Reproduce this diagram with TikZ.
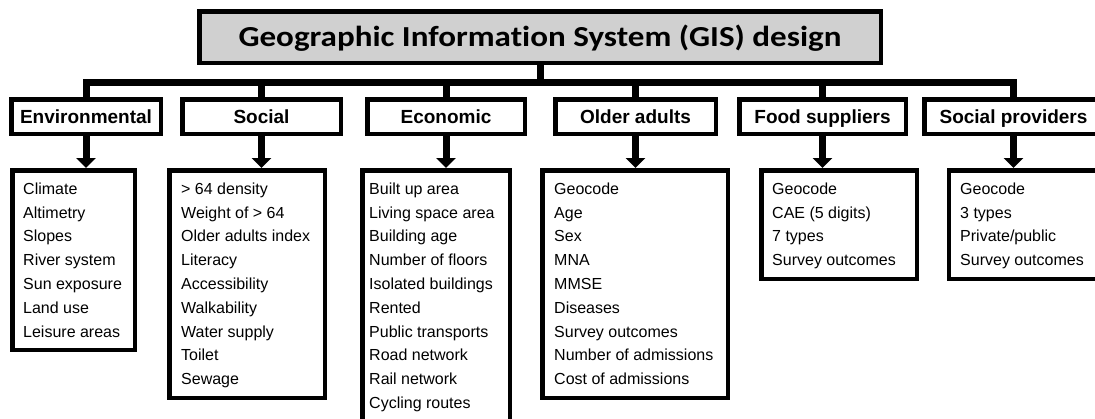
\documentclass[tikz,border=0pt]{standalone}
\usepackage{fontspec}
\setmainfont{Liberation Sans}
\newfontfamily\titlefont[FakeStretch=1.14,Ligatures=NoCommon]{Carlito}
\usetikzlibrary{arrows.meta}
\definecolor{titlegray}{HTML}{D0D0D0}
\begin{document}
\begin{tikzpicture}[x=1pt,y=-1pt,
  titlebox/.style={draw, line width=4.5pt, fill=titlegray, inner sep=0pt,
    minimum width=681.5pt, minimum height=51.5pt, text height=18.6pt, text depth=0pt,
    font=\titlefont\fontsize{29}{32}\selectfont\bfseries},
  catbox/.style={draw, line width=4.5pt, fill=white, inner sep=0pt,
    minimum height=34.5pt, text height=13.6pt, text depth=0pt,
    font=\fontsize{19}{22}\selectfont\bfseries},
  itembox/.style={draw, line width=4.5pt, fill=white, inner sep=0pt},
  itemtext/.style={anchor=north west, align=left, inner sep=0pt,
    font=\fontsize{16}{23.8}\selectfont, execute at begin node=\rule{0pt}{12pt}},
  conn/.style={line width=7pt, miter limit=10},
  arr/.style={line width=7pt, -{Triangle[width=19pt,length=10pt]}},
]
\useasboundingbox (0,0) rectangle (1095,418);

% title
\node[titlebox] (title) at (540,37) {Geographic Information System (GIS) design};

% category boxes
\node[catbox, minimum width=149.5pt] (env) at (86,116.5) {Environmental};
\node[catbox, minimum width=158.5pt] (soc) at (261.5,116.5) {Social};
\node[catbox, minimum width=157.5pt] (eco) at (446,116.5) {Economic};
\node[catbox, minimum width=160.5pt] (old) at (635.5,116.5) {Older adults};
\node[catbox, minimum width=166.5pt] (food) at (822.5,116.5) {Food suppliers};
\node[catbox, minimum width=178.5pt] (sp) at (1013.5,116.5) {Social providers};

% item boxes
\node[itembox, minimum width=122.5pt, minimum height=179.5pt] (envd) at (73.5,260) {};
\node[itembox, minimum width=155.5pt, minimum height=227.5pt] (socd) at (247,284) {};
\node[itembox, minimum width=147.5pt, minimum height=251.5pt] (ecod) at (436,296) {};
\node[itembox, minimum width=185.5pt, minimum height=227.5pt] (oldd) at (635,284) {};
\node[itembox, minimum width=155.5pt, minimum height=108.5pt] (foodd) at (839,224.5) {};
\node[itembox, minimum width=160.75pt, minimum height=108.5pt] (spd) at (1029.6,224.5) {};

% item texts
\node[itemtext] (envt) at (23,182.5)
  {Climate\\Altimetry\\Slopes\\River system\\Sun exposure\\Land use\\Leisure areas};
\node[itemtext] (soct) at (181,182.5)
  {> 64 density\\Weight of > 64\\Older adults index\\Literacy\\Accessibility\\Walkability\\Water supply\\Toilet\\Sewage};
\node[itemtext] (ecot) at (369,182.5)
  {Built up area\\Living space area\\Building age\\Number of floors\\Isolated buildings\\Rented\\Public transports\\Road network\\Rail network\\Cycling routes};
\node[itemtext] (oldt) at (554,182.5)
  {Geocode\\Age\\Sex\\MNA\\MMSE\\Diseases\\Survey outcomes\\Number of admissions\\Cost of admissions};
\node[itemtext] (foodt) at (772,182.5)
  {Geocode\\CAE (5 digits)\\7 types\\Survey outcomes};
\node[itemtext] (spt) at (960,182.5)
  {Geocode\\3 types\\Private/public\\Survey outcomes};

% connectors
\coordinate (bary) at (0,82.5);
\draw[conn] (env.north) -- (env.north |- bary) -- (sp.north |- bary) -- (sp.north);
\draw[conn] (title.south) -- (title.south |- bary);
\foreach \n in {soc,eco,old,food}
  \draw[conn] (\n.north |- bary) -- (\n.north);

% arrows
\foreach \n in {env,soc,eco,old,food,sp}
  \draw[arr] (\n.south) -- (\n.south |- \n d.north);
\end{tikzpicture}
\end{document}
